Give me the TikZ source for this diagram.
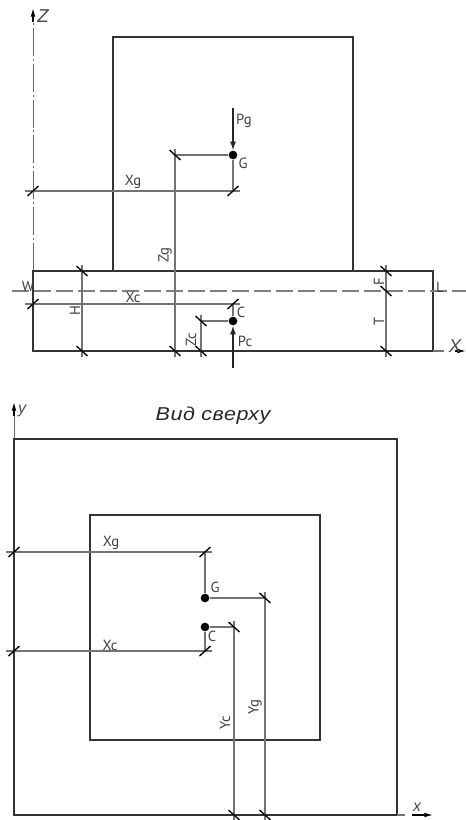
\documentclass[tikz,border=0pt]{standalone}
\usepackage{fontspec}
\setmainfont{Liberation Sans}
\newfontfamily\dimfont{PT Sans}
\newfontfamily\titlefont[FakeStretch=1.15,LetterSpace=3]{Liberation Sans}
\usetikzlibrary{arrows.meta,calc}
\tikzset{
  px/.style={x=0.75pt,y=-0.75pt},
  main/.style={draw=black!80,line width=1.1pt},
  dimline/.style={draw=black!55,line width=0.8pt},
  ticks/.style={draw=black,line width=1pt},
  dimtext/.style={font=\dimfont\fontsize{11}{12}\selectfont,text=black!75,inner sep=0pt},
  axistext/.style={font=\itshape\fontsize{14}{15}\selectfont,text=black!70,inner sep=0pt},
  axissmall/.style={font=\itshape\fontsize{12}{13}\selectfont,text=black!70,inner sep=0pt},
  centerline/.style={draw=black!60,line width=0.7pt,dash pattern=on 21pt off 2.2pt on 1.5pt off 2.2pt},
  hidden/.style={draw=black!50,line width=1pt,dash pattern=on 12.5pt off 4pt},
  force/.style={draw=black!85,line width=1.1pt,-{Latex[length=6.5pt,width=4.5pt]}},
  axisend/.style={draw=black,line width=0.8pt,-{Latex[length=6.5pt,width=3.5pt]}},
  pt/.style={circle,fill=black,minimum size=6.5pt,inner sep=0pt},
}
\newcommand{\slashtick}[1]{\draw[ticks] ($(#1)+(-5.5,5)$) -- ($(#1)+(5.5,-5)$);}
\newcommand{\backtick}[1]{\draw[ticks] ($(#1)+(-5.5,-5)$) -- ($(#1)+(5.5,5)$);}
\begin{document}
\begin{tikzpicture}[px]
\useasboundingbox (0,0) rectangle (466,820);
% ---------- front view
\coordinate (zbase) at (33,271);
\coordinate (ztip) at (33,8);
\coordinate (ubl) at (113,271);
\coordinate (utl) at (113,37);
\coordinate (utr) at (353,37);
\coordinate (ubr) at (353,271);
\coordinate (btl) at (33,271);
\coordinate (bbr) at (433,351);
\coordinate (xtip) at (466,351);
\coordinate (dl) at (12,291);
\coordinate (dr) at (466,291);
\node[pt] (G) at (233,155) {};
\node[pt] (C) at (233,321) {};
\coordinate (pgs) at (233,108);
\coordinate (pcs) at (233,368);
\coordinate (xgl) at (25,191);
\coordinate (xgr) at (240,191);
\coordinate (xga) at (33,191);
\coordinate (xgb) at (233,191);
\coordinate (xcl) at (25,304);
\coordinate (xcr) at (240,304);
\coordinate (xca) at (33,304);
\coordinate (xcb) at (233,304);
\coordinate (zga) at (175,155);
\coordinate (zgt) at (175,149);
\coordinate (zgb) at (175,357);
\coordinate (zgc) at (175,351);
\coordinate (zca) at (201,321);
\coordinate (zct) at (201,315);
\coordinate (zcb) at (201,357);
\coordinate (zcc) at (201,351);
\coordinate (ha) at (82,271);
\coordinate (ht) at (82,265);
\coordinate (hb) at (82,351);
\coordinate (hbb) at (82,357);
\coordinate (ta) at (386,271);
\coordinate (tt) at (386,265);
\coordinate (tm) at (386,291);
\coordinate (tb) at (386,351);
\coordinate (tbb) at (386,357);
\coordinate (xstub) at (444,351);
\coordinate (xarr) at (455,351);
\coordinate (zarr) at (33,22);
\draw[centerline] (zbase) -- (zarr);
\draw[axisend] (zarr) -- (ztip);
\draw[main] (ubl) -- (utl) -- (utr) -- (ubr);
\draw[main] (btl) rectangle (bbr);
\draw[hidden] (dl) -- (dr);
\draw[dimline] (bbr) -- (xstub);
\draw[axisend] (xarr) -- (xtip);
\draw[dimline] (xgl) -- (xgr);
\draw[dimline] (xcl) -- (xcr);
\draw[dimline] (G) -- (xgb);
\draw[dimline] (C) -- (xcb);
\draw[dimline] (G) -- (zga);
\draw[dimline] (C) -- (zca);
\draw[dimline] (zgt) -- (zgb);
\draw[dimline] (zct) -- (zcb);
\draw[dimline] (ht) -- (hbb);
\draw[dimline] (tt) -- (tbb);
\draw[force] (pgs) -- (G);
\draw[force] (pcs) -- (C);
\slashtick{xga}\slashtick{xgb}\slashtick{xca}\slashtick{xcb}
\backtick{zga}\backtick{zgc}\backtick{zca}\backtick{zcc}
\backtick{ha}\backtick{hb}\backtick{ta}\backtick{tm}\backtick{tb}
\node[axistext] (lZ) at (43,16) {Z};
\node[dimtext] (lPg) at (244,121) {Pg};
\node[dimtext] (lG) at (243,163) {G};
\node[dimtext] (lXg) at (133,182) {Xg};
\node[dimtext,rotate=90] (lZg) at (165,255) {Zg};
\node[dimtext] (lW) at (28,286) {W};
\node[dimtext] (lXc) at (133,297) {Xc};
\node[dimtext] (lC) at (241,312) {C};
\node[dimtext] (lPc) at (245,341) {Pc};
\node[dimtext,rotate=90] (lH) at (75,311) {H};
\node[dimtext,rotate=90] (lZc) at (191,340) {Zc};
\node[dimtext,rotate=90] (lF) at (379,282) {F};
\node[dimtext,rotate=90] (lT) at (379,321) {T};
\node[dimtext] (lL) at (440,287) {L};
\node[axistext] (lX) at (455,346) {X};
% ---------- top view
\node[font=\titlefont\itshape\fontsize{14}{15}\selectfont,text=black!85,inner sep=0pt] (title) at (213,416) {Вид сверху};
\coordinate (otl) at (14,439);
\coordinate (obr) at (397,815);
\coordinate (itl) at (90,515);
\coordinate (ibr) at (320,740);
\coordinate (ytip) at (14,402);
\coordinate (yarr) at (14,416);
\coordinate (xt2) at (433,815);
\coordinate (xarr2) at (412,815);
\coordinate (xstub2) at (405,815);
\node[pt] (G2) at (205,598) {};
\node[pt] (C2) at (205,627) {};
\coordinate (a1) at (6,552);
\coordinate (a2) at (212,552);
\coordinate (a3) at (14,552);
\coordinate (a4) at (205,552);
\coordinate (b1) at (6,651);
\coordinate (b2) at (212,651);
\coordinate (b3) at (14,651);
\coordinate (b4) at (205,651);
\coordinate (yga) at (265,598);
\coordinate (ygt) at (265,592);
\coordinate (ygb) at (265,815);
\coordinate (ygd) at (265,820);
\coordinate (yca) at (234,627);
\coordinate (yct) at (234,621);
\coordinate (ycb) at (234,815);
\coordinate (ycd) at (234,820);
\draw[centerline] (otl) -- (yarr);
\draw[axisend] (yarr) -- (ytip);
\draw[main] (otl) rectangle (obr);
\draw[main] (itl) rectangle (ibr);
\draw[dimline] (obr) -- (xstub2);
\draw[axisend] (xarr2) -- (xt2);
\draw[dimline] (a1) -- (a2);
\draw[dimline] (b1) -- (b2);
\draw[dimline] (G2) -- (a4);
\draw[dimline] (C2) -- (b4);
\draw[dimline] (G2) -- (yga);
\draw[dimline] (C2) -- (yca);
\draw[dimline] (ygt) -- (ygd);
\draw[dimline] (yct) -- (ycd);
\slashtick{a3}\slashtick{a4}\slashtick{b3}\slashtick{b4}
\backtick{yga}\backtick{yca}\backtick{ygb}\backtick{ycb}
\node[axissmall] (ly) at (22,411) {y};
\node[axissmall] (lx) at (417,807) {x};
\node[dimtext] (lXg2) at (111,543) {Xg};
\node[dimtext] (lG2) at (215,587) {G};
\node[dimtext] (lC2) at (212,636) {C};
\node[dimtext] (lXc2) at (110,645) {Xc};
\node[dimtext,rotate=90] (lYc) at (225,723) {Yc};
\node[dimtext,rotate=90] (lYg) at (255,707) {Yg};
\end{tikzpicture}
\end{document}
